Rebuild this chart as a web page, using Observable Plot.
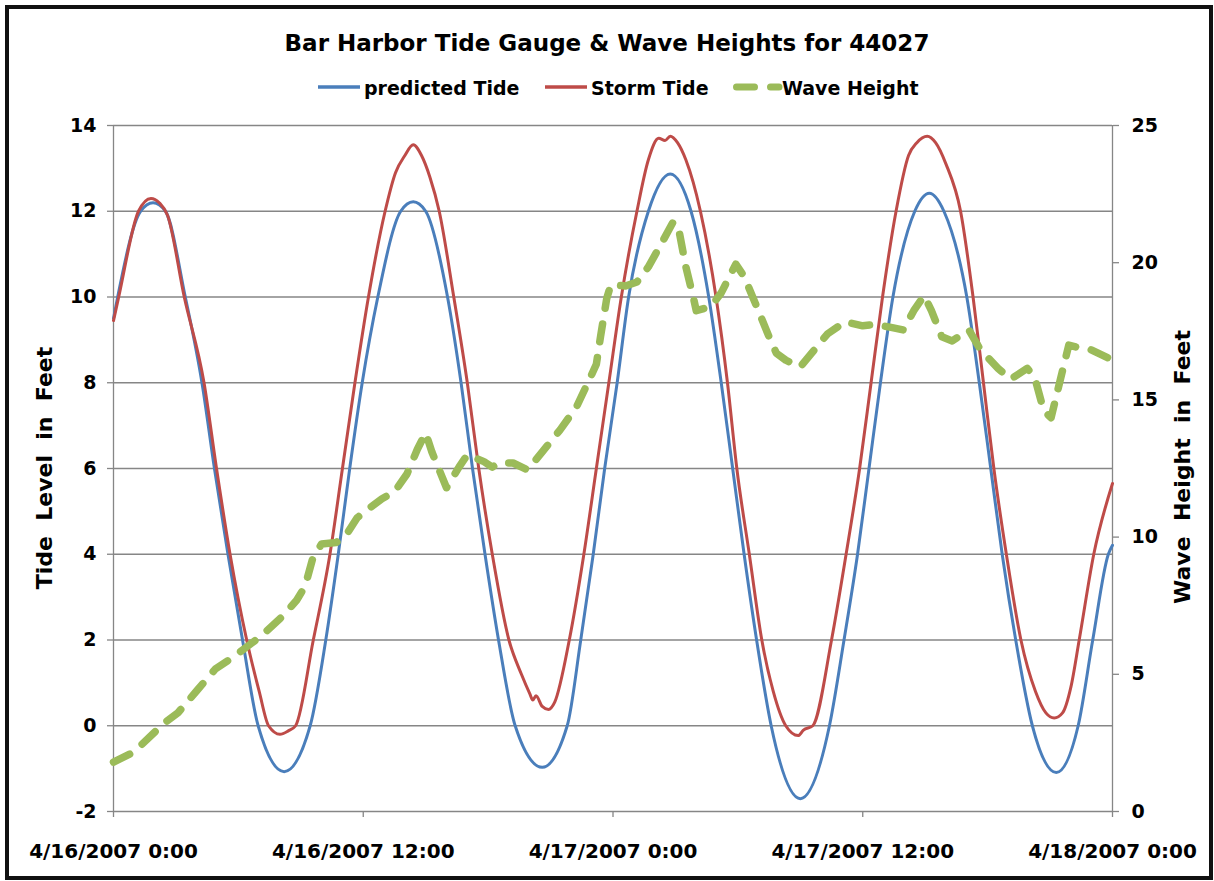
<!DOCTYPE html>
<html>
<head>
<meta charset="utf-8">
<script src="https://cdn.jsdelivr.net/npm/d3@7"></script>
<script src="https://cdn.jsdelivr.net/npm/@observablehq/plot@0.6"></script>
<style>
  body { margin: 0; background: #fff; }
  #wrap { position: relative; width: 1214px; height: 881px; overflow: hidden; background: #fff;
          font-family: "DejaVu Sans", sans-serif; font-weight: bold; color: #000; }
  #border { position: absolute; left: 5px; top: 5px; width: 1200px; height: 867px; border: 4px solid #111; }
  #title { position: absolute; left: 0; top: 28px; width: 1214px; text-align: center; font-size: 23px; line-height: 30px; white-space: nowrap; }
  .leg { position: absolute; top: 76px; font-size: 19px; line-height: 24px; white-space: nowrap; }
  .sw { position: absolute; top: 80px; }
  .axt { position: absolute; font-size: 22px; line-height: 26px; white-space: pre; transform: translate(-50%, -50%) rotate(-90deg); }
  #chart { position: absolute; left: 0; top: 0; }
</style>
</head>
<body>
<div id="wrap">
  <div id="chart"></div>
  <div id="border"></div>
  <div id="title"></div>
  <div id="legend"></div>
  <div class="axt" id="ylab" style="left:45px; top:468px;"></div>
  <div class="axt" id="y2lab" style="left:1183px; top:467px;"></div>
</div>
<script>
// ---- Text ----
const titleText = "Bar Harbor Tide Gauge & Wave Heights for 44027";
const seriesNames = ["predicted Tide", "Storm Tide", "Wave Height"];
const seriesColors = ["#4A7EBB", "#BE4B48", "#9BBB59"];
const leftAxisTitle = "Tide  Level  in  Feet";
const rightAxisTitle = "Wave  Height  in  Feet";

// ---- Axis ticks ----
const xTickHours = [0, 12, 24, 36, 48];
const xTickLabels = ["4/16/2007 0:00", "4/16/2007 12:00", "4/17/2007 0:00", "4/17/2007 12:00", "4/18/2007 0:00"];
const tideTicks = [-2, 0, 2, 4, 6, 8, 10, 12, 14];
const waveTicks = [0, 5, 10, 15, 20, 25];

// ---- Predicted tide (hours since 4/16/2007 0:00, feet) ----
const predictedHours = [0, 0.2, 1.3, 1.9, 2.5, 3.45, 4.25, 4.85, 5.5, 6.2, 6.95, 8.2, 9.45, 10.2, 10.8, 11.35, 11.95, 12.7, 13.8, 14.4,
  15.0, 16.05, 16.7, 17.25, 17.85, 18.5, 19.3, 20.6, 21.8, 22.45, 23.05, 23.6, 24.2, 24.75, 25.7, 26.75,
  27.75, 28.6, 29.2, 29.75, 30.3, 30.9, 31.6, 33.0, 34.4, 35.1, 35.75, 36.3, 36.85, 37.45, 38.5, 39.2,
  39.9, 41.0, 41.6, 42.15, 42.7, 43.35, 44.15, 45.3, 46.35, 47.05, 47.8, 48];
const predictedFeet = [9.5, 10, 12, 12.2, 12, 10, 8, 6, 4, 2, 0, -1.07, 0, 2, 4, 6, 8, 10, 12, 12.22,
  12, 10, 8, 6, 4, 2, 0, -0.97, 0, 2, 4, 6, 8, 10, 12, 12.87,
  12, 10, 8, 6, 4, 2, 0, -1.7, 0, 2, 4, 6, 8, 10, 12, 12.42,
  12, 10, 8, 6, 4, 2, 0, -1.09, 0, 2, 4, 4.21];

// ---- Storm tide (hours, feet) ----
const stormHours = [0, 0.25, 1.2, 1.8, 2.2, 2.6, 3.4, 4.35, 4.95, 5.6, 6.4, 7.0, 7.45, 8.0, 8.4, 8.75,
  9.6, 10.4, 11.0, 11.6, 12.25, 13.05, 13.55, 14.0, 14.4, 14.8, 15.2, 15.65, 16.35, 17.0, 17.55, 18.2, 19.0,
  19.6, 20.0, 20.15, 20.3, 20.6, 20.9, 21.2, 21.9, 22.6, 23.2, 23.8, 24.4, 25.15, 25.7, 26.2, 26.5, 26.75,
  27.1, 27.5, 28.2, 28.95, 29.5, 29.95, 30.55, 31.15, 31.7, 32.3, 32.9, 33.15, 33.6, 34.5, 35.2, 35.85,
  36.4, 36.95, 37.6, 38.2, 38.6, 39.1, 39.5, 40.0, 40.7, 41.3, 41.8, 42.3, 42.9, 43.6, 44.3, 44.8, 45.2,
  45.6, 46.0, 46.4, 47.1, 48];
const stormFeet = [9.45, 10, 12, 12.3, 12.2, 11.9, 10, 8, 6, 4, 2, 0.8, 0, -0.2, -0.12, 0,
  2, 4, 6, 8, 10, 12, 12.9, 13.3, 13.55, 13.3, 12.8, 12, 10, 8, 6, 4, 2,
  1.2, 0.75, 0.6, 0.7, 0.45, 0.38, 0.55, 2, 4, 6, 8, 10, 12, 13.2, 13.7, 13.65, 13.75,
  13.6, 13.2, 12, 10, 8, 6, 4, 2, 0.8, 0, -0.23, -0.1, 0, 2, 4, 6,
  8, 10, 12, 13.3, 13.6, 13.75, 13.6, 13.1, 12, 10, 8, 6, 4, 2, 0.8, 0.3, 0.18,
  0.3, 0.9, 2, 4, 5.65];

// ---- Wave height at buoy 44027 (hours, feet) ----
const waveHours = [0, 0.8, 1.3, 2.4, 3.1, 4.0, 4.9, 5.8, 6.4, 7.1, 8.1, 8.8, 9.2, 9.6, 10.0, 10.7, 11.2, 11.7, 12.2,
  12.9, 13.5, 14.1, 14.6, 15.0, 15.3, 16.0, 16.6, 17.0, 17.8, 18.2, 18.5, 19.2, 19.9, 20.65, 21.45, 22.25,
  22.9, 23.2, 23.4, 23.7, 23.9, 24.6, 25.15, 25.7, 26.4, 26.9, 27.2, 27.5, 27.9, 28.0, 28.7, 29.2, 29.9,
  30.3, 30.85, 31.5, 31.85, 32.3, 33.0, 33.7, 34.3, 35.15, 36.0, 36.6, 37.3, 37.95, 38.45, 38.95, 39.3,
  39.8, 40.3, 41.1, 41.6, 42.0, 42.5, 43.1, 43.9, 44.25, 44.7, 45.05, 45.4, 45.9, 46.4, 46.9, 48];
const waveFeet = [1.8, 2.1, 2.4, 3.2, 3.6, 4.4, 5.2, 5.65, 6.0, 6.4, 7.1, 7.7, 8.2, 9.3, 9.75, 9.8, 10.1, 10.7, 11.0,
  11.4, 11.65, 12.3, 13.2, 13.8, 13.1, 11.8, 12.55, 13.0, 12.75, 12.55, 12.7, 12.7, 12.45, 13.15, 13.9, 14.75,
  15.8, 16.3, 17.3, 18.7, 19.2, 19.15, 19.3, 19.85, 20.8, 21.5, 21.05, 19.85, 18.6, 18.25, 18.4, 18.9, 19.95,
  19.5, 18.5, 17.3, 16.7, 16.45, 16.2, 16.85, 17.4, 17.85, 17.7, 17.75, 17.65, 17.55, 18.25, 18.8, 18.25,
  17.3, 17.15, 17.55, 16.9, 16.55, 16.15, 15.75, 16.15, 15.85, 14.6, 14.35, 15.45, 17.0, 16.9, 16.85, 16.45];

// ---- Build tables ----
const toRecords = (hours, vals) => hours.map((t, i) => ({t, v: vals[i]}));
const predicted = toRecords(predictedHours, predictedFeet);
const storm = toRecords(stormHours, stormFeet);
const wave = toRecords(waveHours, waveFeet);
// secondary axis (0..25 ft waves) mapped onto the primary tide scale (-2..14 ft)
const waveToTide = w => -2 + w * 16 / 25;
const tideToWave = y => (y + 2) * 25 / 16;

const gridColor = "#868686";

const chart = Plot.plot({
  width: 1214,
  height: 881,
  marginTop: 125,
  marginBottom: 70,
  marginLeft: 113,
  marginRight: 102,
  x: {domain: [0, 48], label: null},
  y: {domain: [-2, 14], label: null},
  style: {fontFamily: "DejaVu Sans, sans-serif", fontWeight: "bold", background: "transparent", color: "#000", overflow: "visible"},
  marks: [
    Plot.gridY(tideTicks, {stroke: gridColor, strokeOpacity: 1, strokeWidth: 1.3}),
    Plot.ruleX([xTickHours[0], xTickHours[xTickHours.length - 1]], {stroke: gridColor, strokeWidth: 1.3}),
    Plot.axisY(tideTicks, {anchor: "left", tickSize: 6, tickPadding: 11, stroke: gridColor, strokeWidth: 1.3,
      fill: "#000", fontSize: 19, label: null, tickFormat: d => String(d)}),
    Plot.axisY(waveTicks.map(waveToTide), {anchor: "right", tickSize: 6, tickPadding: 13, stroke: gridColor, strokeWidth: 1.3,
      fill: "#000", fontSize: 19, label: null, tickFormat: d => String(Math.round(tideToWave(d)))}),
    Plot.axisX(xTickHours, {anchor: "bottom", tickSize: 6, tickPadding: 26, stroke: gridColor, strokeWidth: 1.3,
      fill: "#000", fontSize: 20, label: null, tickFormat: d => xTickLabels[xTickHours.indexOf(d)]}),
    Plot.line(predicted, {x: "t", y: "v", stroke: seriesColors[0], strokeWidth: 3, curve: "monotone-x"}),
    Plot.line(storm, {x: "t", y: "v", stroke: seriesColors[1], strokeWidth: 3, curve: "monotone-x"}),
    Plot.line(wave, {x: "t", y: d => waveToTide(d.v), stroke: seriesColors[2], strokeWidth: 7.5,
      strokeDasharray: "18,16", strokeLinecap: "round", strokeLinejoin: "round"})
  ]
});
document.getElementById("chart").appendChild(chart);

// ---- Title, axis titles ----
document.getElementById("title").textContent = titleText;
document.getElementById("ylab").textContent = leftAxisTitle;
document.getElementById("y2lab").textContent = rightAxisTitle;

// ---- Legend ----
const legend = document.getElementById("legend");
const legendSwatchX = [318, 545, 733];
const legendTextX = [364, 591, 782];
seriesNames.forEach((name, i) => {
  const ns = "http://www.w3.org/2000/svg";
  const svg = document.createElementNS(ns, "svg");
  svg.setAttribute("class", "sw");
  svg.setAttribute("width", 52);
  svg.setAttribute("height", 14);
  svg.style.left = legendSwatchX[i] + "px";
  const ln = document.createElementNS(ns, "line");
  ln.setAttribute("y1", 7); ln.setAttribute("y2", 7);
  ln.setAttribute("stroke", seriesColors[i]);
  if (i < 2) {
    ln.setAttribute("x1", 0); ln.setAttribute("x2", 42);
    ln.setAttribute("stroke-width", 3.5);
  } else {
    ln.setAttribute("x1", 3.5); ln.setAttribute("x2", 46);
    ln.setAttribute("stroke-width", 7);
    ln.setAttribute("stroke-dasharray", "18,16");
    ln.setAttribute("stroke-linecap", "round");
  }
  svg.appendChild(ln);
  legend.appendChild(svg);
  const tx = document.createElement("div");
  tx.className = "leg";
  tx.style.left = legendTextX[i] + "px";
  tx.textContent = name;
  legend.appendChild(tx);
});
</script>
</body>
</html>
